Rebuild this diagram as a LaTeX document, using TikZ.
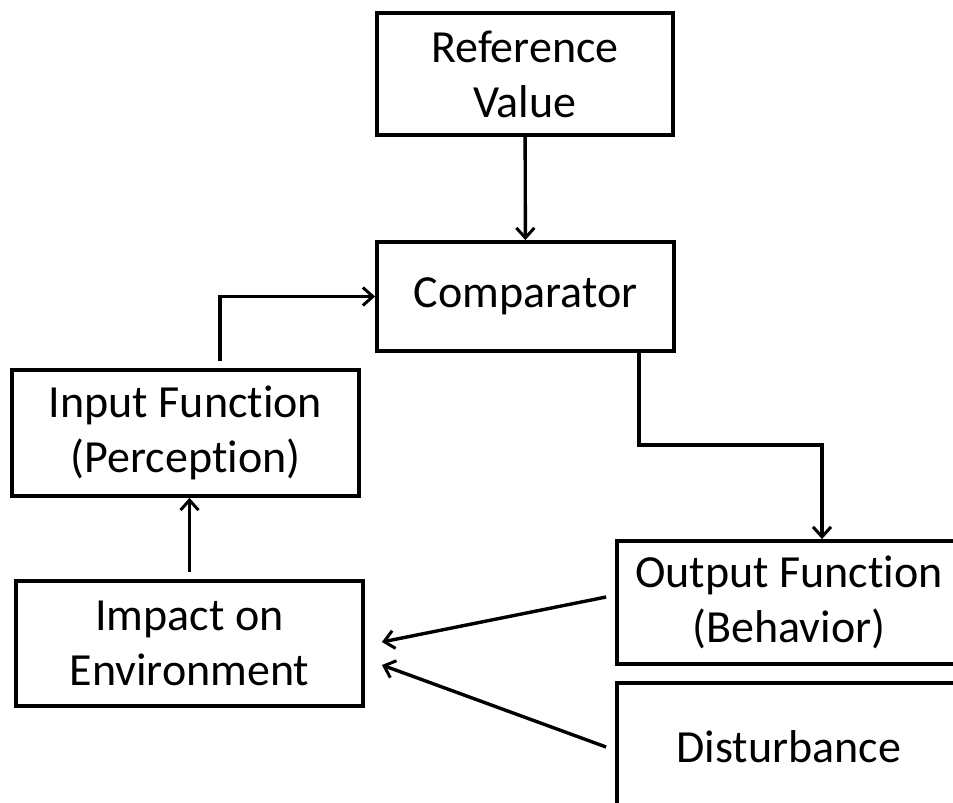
\documentclass[tikz,border=0pt]{standalone}
\usepackage{fontspec}
\setmainfont{Carlito}[Ligatures=NoCommon]
\usetikzlibrary{arrows.meta}

\begin{document}
\begin{tikzpicture}[x=0.5pt,y=-0.5pt,
    box/.style={draw,line width=1.9pt,inner sep=0pt,align=center,
      font=\fontsize{23}{27.5}\selectfont},
    link/.style={line width=1.7pt,-{Straight Barb[length=5pt,width=9pt,line width=1.5pt]}}]
    \clip (0,0) rectangle (953,803);
    \node[box,minimum width=148pt,minimum height=61pt] (ref) at (525,74) {Reference\\Value};
    \node[box,minimum width=148.5pt,minimum height=54.5pt] (comp) at (525.5,296.5) {Comparator};
    \node[box,minimum width=173.5pt,minimum height=63pt] (input) at (185.5,433) {Input Function\\(Perception)};
    \node[box,minimum width=173.5pt,minimum height=62.5pt] (impact) at (189.5,643.5) {Impact on\\Environment};
    \node[box,minimum width=172pt,minimum height=61.5pt] (output) at (789,602.5) {Output Function\\(Behavior)};
    \node[box,minimum width=172pt,minimum height=64pt] (dist) at (789,747) {Disturbance};
    \coordinate (bend) at (822,445);
    \draw[link] (ref) -- (comp);
    \draw[link] ([xshift=17.25pt,yshift=3.5pt]input.north) |- (comp.west);
    \draw[link] ([xshift=56.75pt]comp.south) |- (bend) -- ([xshift=16.5pt]output.north);
    \draw[link] ([yshift=3.5pt]impact.north) -- (impact.north |- input.south);
    \draw[link] ([xshift=-4.5pt,yshift=2.75pt]output.west) -- ([xshift=8.5pt,yshift=0.75pt]impact.east);
    \draw[link] ([xshift=-4.5pt]dist.west) -- ([xshift=8.5pt,yshift=-10.75pt]impact.east);
  \end{tikzpicture}
\end{document}
